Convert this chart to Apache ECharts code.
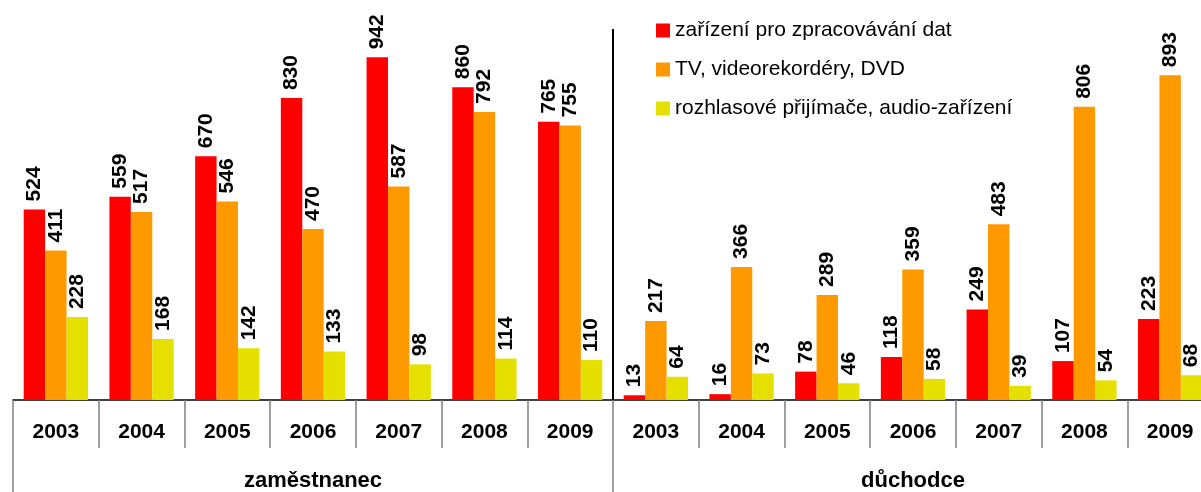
<!DOCTYPE html>
<html lang="cs">
<head>
    <meta charset="UTF-8">
    <title>Spotřební elektronika</title>
    <script src="https://cdn.jsdelivr.net/npm/echarts@6/dist/echarts.min.js"></script>
    <style>
        html, body { margin: 0; padding: 0; background: #fff; overflow: hidden; }
    </style>
</head>
<body>
<!-- the reference is cropped on the right, so the chart is a bit wider than the window -->
<div id="main" style="width: 1215px;height:492px;"></div>
<script type="text/javascript">
    // data
    var years = ['2003', '2004', '2005', '2006', '2007', '2008', '2009'];
    var groups = ['zaměstnanec', 'důchodce'];
    var seriesNames = ['zařízení pro zpracovávání dat', 'TV, videorekordéry, DVD', 'rozhlasové přijímače, audio-zařízení'];

    // zaměstnanec 2003-2009, then důchodce 2003-2009
    var dataPC = [524, 559, 670, 830, 942, 860, 765, 13, 16, 78, 118, 249, 107, 223];
    var dataTV = [411, 517, 546, 470, 587, 792, 755, 217, 366, 289, 359, 483, 806, 893];
    var dataAudio = [228, 168, 142, 133, 98, 114, 110, 64, 73, 46, 58, 39, 54, 68];

    var colors = ['#ff0000', '#ff9900', '#e5e000'];
    var font = '"Liberation Sans", Arial, sans-serif';

    var myChart = echarts.init(document.getElementById('main'));

    var label = {
        show: true,
        position: 'top',
        rotate: 90,
        align: 'left',
        verticalAlign: 'middle',
        distance: 8,
        color: '#000',
        fontFamily: font,
        fontWeight: 'bold',
        fontSize: 21
    };

    function makeSeries(name, values, color) {
        return {
            name: name,
            type: 'bar',
            data: values,
            barGap: 0,
            barCategoryGap: '25%',
            itemStyle: {color: color},
            label: label
        };
    }

    var option = {
        animation: false,
        color: colors,
        grid: {left: 13, top: 29, right: 2, bottom: 92},
        legend: {
            orient: 'vertical',
            left: 651,
            top: 15,
            icon: 'rect',
            itemWidth: 14,
            itemHeight: 14,
            itemGap: 18,
            textStyle: {fontFamily: font, fontSize: 21, lineHeight: 21, color: '#000'},
            data: seriesNames
        },
        xAxis: [
            {
                type: 'category',
                position: 'bottom',
                data: years.concat(years),
                axisLine: {show: true, lineStyle: {color: '#000', width: 1.5}},
                axisTick: {show: true, alignWithLabel: false, interval: 0, length: 48, lineStyle: {color: '#808080', width: 1.5}},
                axisLabel: {interval: 0, margin: 22, color: '#000', fontFamily: font, fontWeight: 'bold', fontSize: 21}
            },
            {
                type: 'category',
                position: 'bottom',
                data: groups,
                axisLine: {show: false},
                axisTick: {show: true, alignWithLabel: false, interval: 0, length: 92, lineStyle: {color: '#808080', width: 1.5}},
                axisLabel: {interval: 0, margin: 70, color: '#000', fontFamily: font, fontWeight: 'bold', fontSize: 22},
                splitLine: {show: true, interval: 0, showMinLine: false, showMaxLine: false, lineStyle: {color: '#000', width: 2}}
            }
        ],
        yAxis: {type: 'value', min: 0, max: 1020, show: false, splitLine: {show: false}},
        series: [
            makeSeries(seriesNames[0], dataPC, colors[0]),
            makeSeries(seriesNames[1], dataTV, colors[1]),
            makeSeries(seriesNames[2], dataAudio, colors[2])
        ]
    };

    myChart.setOption(option);
</script>
</body>
</html>
